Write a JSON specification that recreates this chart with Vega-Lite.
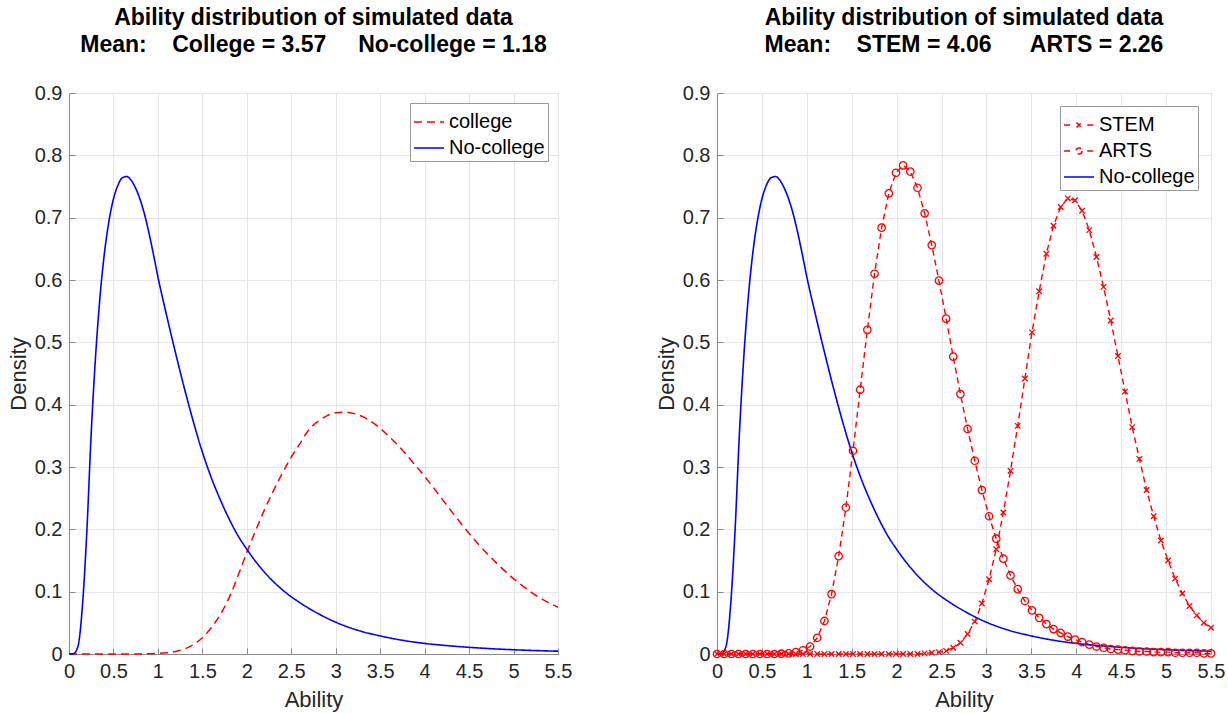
{
  "$schema": "https://vega.github.io/schema/vega-lite/v6.json",
  "padding": {"left": 6, "top": 6, "right": 4, "bottom": 4},
  "background": "white",
  "config": {
    "font": "Liberation Sans",
    "view": {"stroke": "#8a8a8a", "strokeWidth": 1},
    "axis": {
      "domainColor": "#8a8a8a", "tickColor": "#8a8a8a", "gridColor": "#e6e6e6",
      "labelColor": "#262626", "titleColor": "#262626",
      "labelFontSize": 20, "titleFontSize": 22, "titleFontWeight": "normal",
      "labelFont": "Liberation Sans", "titleFont": "Liberation Sans",
      "tickSize": -6, "labelPadding": 13, "labelFlush": false, "labelOverlap": false
    },
    "axisX": {"titlePadding": 8},
    "axisY": {"titlePadding": 4},
    "title": {"fontSize": 23, "fontWeight": "bold", "color": "black", "lineHeight": 27, "offset": 26, "anchor": "middle", "frame": "group", "font": "Liberation Sans"},
    "legend": {"fillColor": "white", "strokeColor": "#9a9a9a", "padding": 3, "labelFontSize": 20, "labelColor": "black", "symbolType": "stroke", "symbolSize": 900, "symbolStrokeWidth": 1.6, "rowPadding": 0, "labelOffset": 4, "labelFont": "Liberation Sans"}
  },
  "datasets": {
    "nocol": [
      {"x":0,"y":0,"s":"No-college"},{"x":0.05,"y":0.0005,"s":"No-college"},{"x":0.1,"y":0.012,"s":"No-college"},{"x":0.15,"y":0.075,"s":"No-college"},
      {"x":0.2,"y":0.195,"s":"No-college"},{"x":0.25,"y":0.355,"s":"No-college"},{"x":0.3,"y":0.48,"s":"No-college"},{"x":0.35,"y":0.575,"s":"No-college"},
      {"x":0.4,"y":0.645,"s":"No-college"},{"x":0.45,"y":0.695,"s":"No-college"},{"x":0.5,"y":0.73,"s":"No-college"},{"x":0.55,"y":0.752,"s":"No-college"},
      {"x":0.6,"y":0.764,"s":"No-college"},{"x":0.65,"y":0.766,"s":"No-college"},{"x":0.7,"y":0.76,"s":"No-college"},{"x":0.75,"y":0.747,"s":"No-college"},
      {"x":0.8,"y":0.729,"s":"No-college"},{"x":0.85,"y":0.705,"s":"No-college"},{"x":0.9,"y":0.675,"s":"No-college"},{"x":0.95,"y":0.641,"s":"No-college"},
      {"x":1.0,"y":0.605,"s":"No-college"},{"x":1.1,"y":0.542,"s":"No-college"},{"x":1.2,"y":0.482,"s":"No-college"},{"x":1.3,"y":0.425,"s":"No-college"},
      {"x":1.4,"y":0.372,"s":"No-college"},{"x":1.5,"y":0.324,"s":"No-college"},{"x":1.6,"y":0.283,"s":"No-college"},{"x":1.7,"y":0.248,"s":"No-college"},
      {"x":1.8,"y":0.217,"s":"No-college"},{"x":1.9,"y":0.19,"s":"No-college"},{"x":2.0,"y":0.168,"s":"No-college"},{"x":2.2,"y":0.131,"s":"No-college"},
      {"x":2.4,"y":0.103,"s":"No-college"},{"x":2.6,"y":0.082,"s":"No-college"},{"x":2.8,"y":0.065,"s":"No-college"},{"x":3.0,"y":0.051,"s":"No-college"},
      {"x":3.25,"y":0.038,"s":"No-college"},{"x":3.5,"y":0.029,"s":"No-college"},{"x":3.75,"y":0.022,"s":"No-college"},{"x":4.0,"y":0.017,"s":"No-college"},
      {"x":4.25,"y":0.0135,"s":"No-college"},{"x":4.5,"y":0.0107,"s":"No-college"},{"x":4.75,"y":0.0085,"s":"No-college"},{"x":5.0,"y":0.0068,"s":"No-college"},
      {"x":5.25,"y":0.0055,"s":"No-college"},{"x":5.5,"y":0.0045,"s":"No-college"}
    ],
    "college": [
      {"x":0,"y":0,"s":"college"},{"x":0.5,"y":0,"s":"college"},{"x":0.8,"y":0.0002,"s":"college"},{"x":1.0,"y":0.001,"s":"college"},
      {"x":1.1,"y":0.002,"s":"college"},{"x":1.2,"y":0.004,"s":"college"},{"x":1.3,"y":0.008,"s":"college"},{"x":1.4,"y":0.015,"s":"college"},
      {"x":1.5,"y":0.026,"s":"college"},{"x":1.6,"y":0.042,"s":"college"},{"x":1.7,"y":0.063,"s":"college"},{"x":1.8,"y":0.09,"s":"college"},
      {"x":1.9,"y":0.125,"s":"college"},{"x":2.0,"y":0.163,"s":"college"},{"x":2.1,"y":0.198,"s":"college"},{"x":2.2,"y":0.232,"s":"college"},
      {"x":2.3,"y":0.262,"s":"college"},{"x":2.4,"y":0.29,"s":"college"},{"x":2.5,"y":0.316,"s":"college"},{"x":2.6,"y":0.338,"s":"college"},
      {"x":2.7,"y":0.36,"s":"college"},{"x":2.8,"y":0.373,"s":"college"},{"x":2.9,"y":0.382,"s":"college"},{"x":3.0,"y":0.387,"s":"college"},
      {"x":3.1,"y":0.388,"s":"college"},{"x":3.2,"y":0.386,"s":"college"},{"x":3.3,"y":0.381,"s":"college"},{"x":3.4,"y":0.373,"s":"college"},
      {"x":3.5,"y":0.362,"s":"college"},{"x":3.6,"y":0.349,"s":"college"},{"x":3.7,"y":0.335,"s":"college"},{"x":3.8,"y":0.319,"s":"college"},
      {"x":3.9,"y":0.302,"s":"college"},{"x":4.0,"y":0.285,"s":"college"},{"x":4.2,"y":0.248,"s":"college"},{"x":4.4,"y":0.211,"s":"college"},
      {"x":4.6,"y":0.177,"s":"college"},{"x":4.8,"y":0.147,"s":"college"},{"x":5.0,"y":0.121,"s":"college"},{"x":5.2,"y":0.099,"s":"college"},
      {"x":5.4,"y":0.082,"s":"college"},{"x":5.5,"y":0.075,"s":"college"}
    ],
    "groups": [
      {"x":0,"y":0,"s":"STEM"},{"x":0.080,"y":0,"s":"STEM"},{"x":0.159,"y":0,"s":"STEM"},{"x":0.239,"y":0,"s":"STEM"},{"x":0.319,"y":0,"s":"STEM"},
      {"x":0.399,"y":0,"s":"STEM"},{"x":0.478,"y":0,"s":"STEM"},{"x":0.558,"y":0,"s":"STEM"},{"x":0.638,"y":0,"s":"STEM"},{"x":0.717,"y":0,"s":"STEM"},
      {"x":0.797,"y":0,"s":"STEM"},{"x":0.877,"y":0,"s":"STEM"},{"x":0.957,"y":0,"s":"STEM"},{"x":1.036,"y":0,"s":"STEM"},{"x":1.116,"y":0,"s":"STEM"},
      {"x":1.196,"y":0,"s":"STEM"},{"x":1.275,"y":0,"s":"STEM"},{"x":1.355,"y":0,"s":"STEM"},{"x":1.435,"y":0,"s":"STEM"},{"x":1.514,"y":0,"s":"STEM"},
      {"x":1.594,"y":0,"s":"STEM"},{"x":1.674,"y":0,"s":"STEM"},{"x":1.754,"y":0,"s":"STEM"},{"x":1.833,"y":0,"s":"STEM"},{"x":1.913,"y":0,"s":"STEM"},
      {"x":1.993,"y":0,"s":"STEM"},{"x":2.072,"y":0,"s":"STEM"},{"x":2.152,"y":0,"s":"STEM"},{"x":2.232,"y":0,"s":"STEM"},{"x":2.312,"y":0.001,"s":"STEM"},
      {"x":2.391,"y":0.002,"s":"STEM"},{"x":2.471,"y":0.003,"s":"STEM"},{"x":2.551,"y":0.005,"s":"STEM"},{"x":2.630,"y":0.010,"s":"STEM"},{"x":2.710,"y":0.018,"s":"STEM"},
      {"x":2.790,"y":0.032,"s":"STEM"},{"x":2.870,"y":0.052,"s":"STEM"},{"x":2.949,"y":0.081,"s":"STEM"},{"x":3.029,"y":0.120,"s":"STEM"},{"x":3.109,"y":0.168,"s":"STEM"},
      {"x":3.188,"y":0.227,"s":"STEM"},{"x":3.268,"y":0.294,"s":"STEM"},{"x":3.348,"y":0.366,"s":"STEM"},{"x":3.428,"y":0.442,"s":"STEM"},{"x":3.507,"y":0.516,"s":"STEM"},
      {"x":3.587,"y":0.582,"s":"STEM"},{"x":3.667,"y":0.642,"s":"STEM"},{"x":3.746,"y":0.687,"s":"STEM"},{"x":3.826,"y":0.717,"s":"STEM"},{"x":3.906,"y":0.731,"s":"STEM"},
      {"x":3.986,"y":0.728,"s":"STEM"},{"x":4.065,"y":0.711,"s":"STEM"},{"x":4.145,"y":0.680,"s":"STEM"},{"x":4.225,"y":0.637,"s":"STEM"},{"x":4.304,"y":0.589,"s":"STEM"},
      {"x":4.384,"y":0.535,"s":"STEM"},{"x":4.464,"y":0.478,"s":"STEM"},{"x":4.543,"y":0.421,"s":"STEM"},{"x":4.623,"y":0.364,"s":"STEM"},{"x":4.703,"y":0.313,"s":"STEM"},
      {"x":4.783,"y":0.263,"s":"STEM"},{"x":4.862,"y":0.221,"s":"STEM"},{"x":4.942,"y":0.182,"s":"STEM"},{"x":5.022,"y":0.150,"s":"STEM"},{"x":5.101,"y":0.121,"s":"STEM"},
      {"x":5.181,"y":0.097,"s":"STEM"},{"x":5.261,"y":0.077,"s":"STEM"},{"x":5.341,"y":0.062,"s":"STEM"},{"x":5.420,"y":0.050,"s":"STEM"},{"x":5.500,"y":0.042,"s":"STEM"},
      {"x":0,"y":0,"s":"ARTS"},{"x":0.080,"y":0,"s":"ARTS"},{"x":0.159,"y":0,"s":"ARTS"},{"x":0.239,"y":0,"s":"ARTS"},{"x":0.319,"y":0,"s":"ARTS"},
      {"x":0.399,"y":0,"s":"ARTS"},{"x":0.478,"y":0,"s":"ARTS"},{"x":0.558,"y":0,"s":"ARTS"},{"x":0.638,"y":0,"s":"ARTS"},{"x":0.717,"y":0.0005,"s":"ARTS"},
      {"x":0.797,"y":0.001,"s":"ARTS"},{"x":0.877,"y":0.003,"s":"ARTS"},{"x":0.957,"y":0.006,"s":"ARTS"},{"x":1.036,"y":0.012,"s":"ARTS"},{"x":1.116,"y":0.026,"s":"ARTS"},
      {"x":1.196,"y":0.053,"s":"ARTS"},{"x":1.275,"y":0.096,"s":"ARTS"},{"x":1.355,"y":0.157,"s":"ARTS"},{"x":1.435,"y":0.235,"s":"ARTS"},{"x":1.514,"y":0.326,"s":"ARTS"},
      {"x":1.594,"y":0.424,"s":"ARTS"},{"x":1.674,"y":0.520,"s":"ARTS"},{"x":1.754,"y":0.610,"s":"ARTS"},{"x":1.833,"y":0.684,"s":"ARTS"},{"x":1.913,"y":0.739,"s":"ARTS"},
      {"x":1.993,"y":0.772,"s":"ARTS"},{"x":2.072,"y":0.784,"s":"ARTS"},{"x":2.152,"y":0.774,"s":"ARTS"},{"x":2.232,"y":0.748,"s":"ARTS"},{"x":2.312,"y":0.707,"s":"ARTS"},
      {"x":2.391,"y":0.656,"s":"ARTS"},{"x":2.471,"y":0.599,"s":"ARTS"},{"x":2.551,"y":0.538,"s":"ARTS"},{"x":2.630,"y":0.477,"s":"ARTS"},{"x":2.710,"y":0.417,"s":"ARTS"},
      {"x":2.790,"y":0.361,"s":"ARTS"},{"x":2.870,"y":0.310,"s":"ARTS"},{"x":2.949,"y":0.263,"s":"ARTS"},{"x":3.029,"y":0.221,"s":"ARTS"},{"x":3.109,"y":0.185,"s":"ARTS"},
      {"x":3.188,"y":0.153,"s":"ARTS"},{"x":3.268,"y":0.126,"s":"ARTS"},{"x":3.348,"y":0.104,"s":"ARTS"},{"x":3.428,"y":0.085,"s":"ARTS"},{"x":3.507,"y":0.070,"s":"ARTS"},
      {"x":3.587,"y":0.058,"s":"ARTS"},{"x":3.667,"y":0.048,"s":"ARTS"},{"x":3.746,"y":0.040,"s":"ARTS"},{"x":3.826,"y":0.034,"s":"ARTS"},{"x":3.906,"y":0.028,"s":"ARTS"},
      {"x":3.986,"y":0.023,"s":"ARTS"},{"x":4.065,"y":0.019,"s":"ARTS"},{"x":4.145,"y":0.015,"s":"ARTS"},{"x":4.225,"y":0.012,"s":"ARTS"},{"x":4.304,"y":0.010,"s":"ARTS"},
      {"x":4.384,"y":0.008,"s":"ARTS"},{"x":4.464,"y":0.007,"s":"ARTS"},{"x":4.543,"y":0.006,"s":"ARTS"},{"x":4.623,"y":0.005,"s":"ARTS"},{"x":4.703,"y":0.004,"s":"ARTS"},
      {"x":4.783,"y":0.004,"s":"ARTS"},{"x":4.862,"y":0.003,"s":"ARTS"},{"x":4.942,"y":0.003,"s":"ARTS"},{"x":5.022,"y":0.003,"s":"ARTS"},{"x":5.101,"y":0.002,"s":"ARTS"},
      {"x":5.181,"y":0.002,"s":"ARTS"},{"x":5.261,"y":0.002,"s":"ARTS"},{"x":5.341,"y":0.002,"s":"ARTS"},{"x":5.420,"y":0.001,"s":"ARTS"},{"x":5.500,"y":0.001,"s":"ARTS"}
    ]
  },
  "spacing": 81,
  "resolve": {
    "scale": {"x": "independent", "y": "independent", "color": "independent", "strokeDash": "independent"},
    "legend": {"color": "independent", "strokeDash": "independent"}
  },
  "hconcat": [
    {
      "title": {"text": ["Ability distribution of simulated data", "Mean:\u00a0\u00a0\u00a0\u00a0College = 3.57\u00a0\u00a0\u00a0\u00a0\u00a0No-college = 1.18"]},
      "width": 489,
      "height": 561,
      "encoding": {
        "x": {"field": "x", "type": "quantitative", "scale": {"domain": [0, 5.5], "nice": false, "zero": false},
              "axis": {"title": "Ability", "values": [0,0.5,1,1.5,2,2.5,3,3.5,4,4.5,5,5.5], "format": "~g"}},
        "y": {"field": "y", "type": "quantitative", "scale": {"domain": [0, 0.9], "nice": false},
              "axis": {"title": "Density", "values": [0,0.1,0.2,0.3,0.4,0.5,0.6,0.7,0.8,0.9], "format": "~g"}},
        "color": {"field": "s", "type": "nominal", "scale": {"domain": ["college", "No-college"], "range": ["#ff0000", "#0000ff"]},
                  "legend": {"title": null, "orient": "top-right", "offset": 10}},
        "strokeDash": {"field": "s", "type": "nominal", "scale": {"domain": ["college", "No-college"], "range": [[8, 5], [1, 0]]},
                  "legend": {"title": null, "orient": "top-right", "offset": 10}}
      },
      "layer": [
        {"data": {"name": "college"}, "mark": {"type": "line", "strokeWidth": 1.5, "interpolate": "monotone"}},
        {"data": {"name": "nocol"}, "mark": {"type": "line", "strokeWidth": 1.6, "interpolate": "monotone"}}
      ]
    },
    {
      "title": {"text": ["Ability distribution of simulated data", "Mean:\u00a0\u00a0\u00a0\u00a0STEM = 4.06\u00a0\u00a0\u00a0\u00a0\u00a0\u00a0ARTS = 2.26"]},
      "width": 494,
      "height": 561,
      "encoding": {
        "x": {"field": "x", "type": "quantitative", "scale": {"domain": [0, 5.5], "nice": false, "zero": false},
              "axis": {"title": "Ability", "values": [0,0.5,1,1.5,2,2.5,3,3.5,4,4.5,5,5.5], "format": "~g"}},
        "y": {"field": "y", "type": "quantitative", "scale": {"domain": [0, 0.9], "nice": false},
              "axis": {"title": "Density", "values": [0,0.1,0.2,0.3,0.4,0.5,0.6,0.7,0.8,0.9], "format": "~g"}}
      },
      "layer": [
        {
          "data": {"name": "groups"},
          "mark": {"type": "line", "strokeWidth": 1.4},
          "encoding": {
            "color": {"field": "s", "type": "nominal", "scale": {"domain": ["STEM", "ARTS", "No-college"], "range": ["#ff0000", "#ff0000", "#0000ff"]},
                      "legend": {"title": null, "orient": "top-right", "offset": 13,
                                 "encode": {"symbols": {"update": {
                                   "shape": {"signal": "datum.value === 'STEM' ? 'M-1,0L-0.55,0M0.55,0L1,0M-0.17,-0.17L0.17,0.17M-0.17,0.17L0.17,-0.17' : datum.value === 'ARTS' ? 'M-1,0L-0.55,0M0.55,0L1,0M0.2,0A0.2,0.2,0,1,1,-0.2,0A0.2,0.2,0,1,1,0.2,0' : 'M-1,0L1,0'"},
                                   "strokeDash": {"value": [1, 0]},
                                   "fill": {"value": "transparent"}}}}}},
            "strokeDash": {"field": "s", "type": "nominal", "scale": {"domain": ["STEM", "ARTS", "No-college"], "range": [[6, 4], [6, 4], [1, 0]]},
                      "legend": {"title": null, "orient": "top-right", "offset": 13,
                                 "encode": {"symbols": {"update": {
                                   "shape": {"signal": "datum.value === 'STEM' ? 'M-1,0L-0.55,0M0.55,0L1,0M-0.17,-0.17L0.17,0.17M-0.17,0.17L0.17,-0.17' : datum.value === 'ARTS' ? 'M-1,0L-0.55,0M0.55,0L1,0M0.2,0A0.2,0.2,0,1,1,-0.2,0A0.2,0.2,0,1,1,0.2,0' : 'M-1,0L1,0'"},
                                   "strokeDash": {"value": [1, 0]},
                                   "fill": {"value": "transparent"}}}}}}
          }
        },
        {
          "data": {"name": "nocol"},
          "mark": {"type": "line", "strokeWidth": 1.6, "interpolate": "monotone"},
          "encoding": {
            "color": {"field": "s", "type": "nominal", "scale": {"domain": ["STEM", "ARTS", "No-college"], "range": ["#ff0000", "#ff0000", "#0000ff"]}},
            "strokeDash": {"field": "s", "type": "nominal", "scale": {"domain": ["STEM", "ARTS", "No-college"], "range": [[6, 4], [6, 4], [1, 0]]}}
          }
        },
        {
          "data": {"name": "groups"},
          "transform": [{"filter": "datum.s === 'ARTS'"}],
          "mark": {"type": "point", "shape": "circle", "filled": false, "color": "#ff0000", "size": 55, "strokeWidth": 1.3, "opacity": 1},
          "encoding": {}
        },
        {
          "data": {"name": "groups"},
          "transform": [{"filter": "datum.s === 'STEM'"}],
          "mark": {"type": "point", "shape": "M-1,-1L1,1M-1,1L1,-1", "filled": false, "color": "#ff0000", "size": 30, "strokeWidth": 1.3, "opacity": 1},
          "encoding": {}
        }
      ]
    }
  ]
}
